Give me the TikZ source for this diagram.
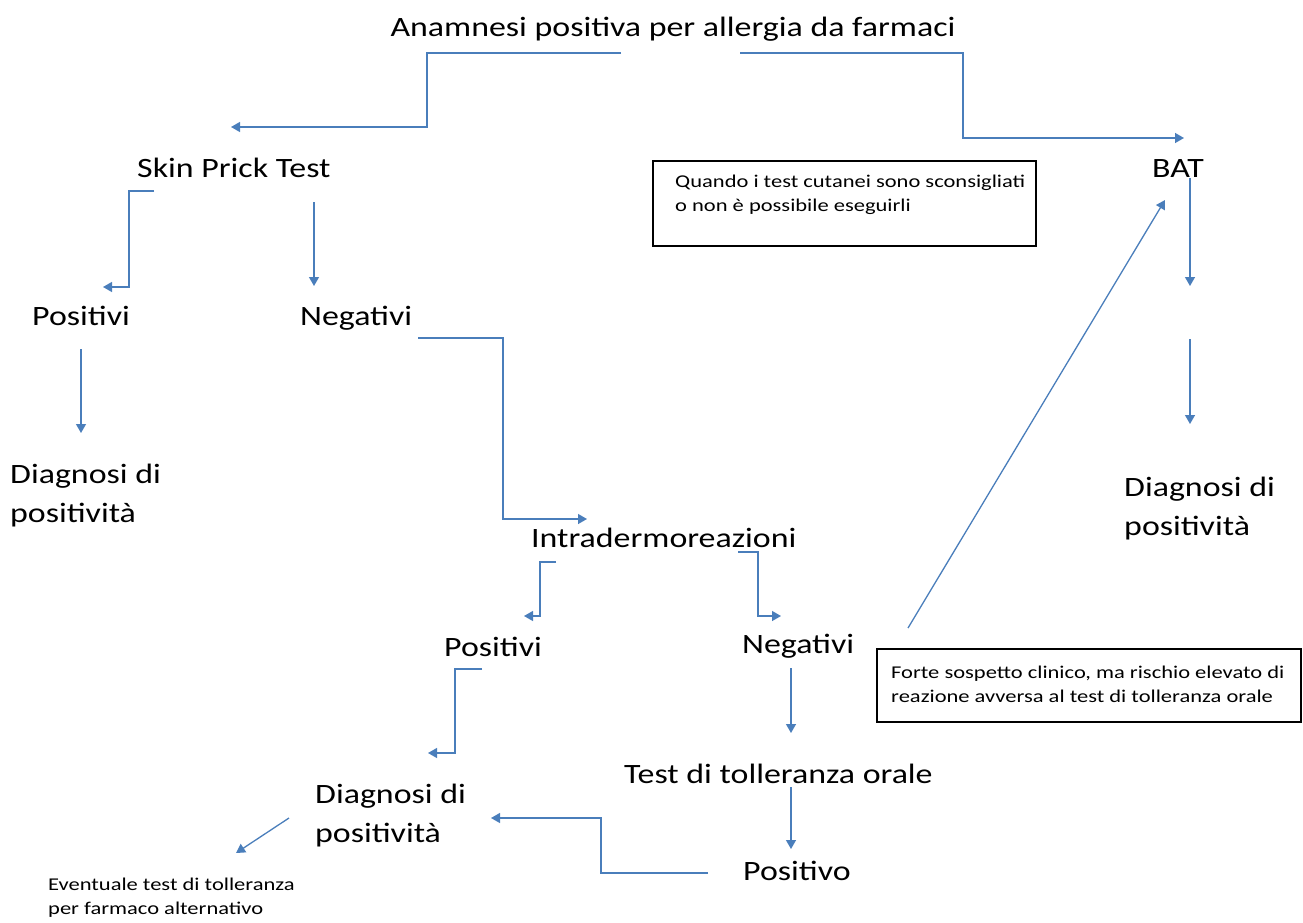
\documentclass[tikz,border=0pt]{standalone}
\usepackage{fontspec}
\setmainfont{Carlito}[FakeStretch=1.21]
\newfontfamily\smallfam{Carlito}[FakeStretch=1.25]
\usetikzlibrary{arrows.meta}
\definecolor{lineblue}{HTML}{4A7EBB}
\begin{document}
\begin{tikzpicture}[x=1pt,y=-1pt,
  big/.style={font=\fontsize{28}{39}\selectfont, inner sep=0pt, align=left, anchor=base west},
  small/.style={font=\smallfam\fontsize{18}{24}\selectfont, inner sep=0pt, align=left, anchor=base west},
  conn/.style={draw=lineblue, line width=1.3pt, -{Triangle[length=9pt,width=10pt]}},
  boxframe/.style={draw=black, line width=1.8pt, inner sep=0pt, anchor=north west}]
\useasboundingbox (0,0) rectangle (1303,923);

% text nodes (multi-line nodes are placed at the baseline of their last line)
\node[big, anchor=base] (anam) at (673,37) {Anamnesi positiva per allergia da farmaci};
\node[big] (spt) at (137,177) {Skin Prick Test};
\node[big] (bat) at (1152,177) {BAT};
\node[big] (posL) at (32,325) {Positivi};
\node[big] (negT) at (300,325) {Negativi};
\node[big] (diagL) at (10,522) {Diagnosi di\\positività};
\node[big] (intra) at (531,547) {Intradermoreazioni};
\node[big] (posM) at (444,656) {Positivi};
\node[big] (negM) at (742,653) {Negativi};
\node[big] (diagR) at (1124,535) {Diagnosi di\\positività};
\node[big] (tto) at (624,783) {Test di tolleranza orale};
\node[big] (diagB) at (315,842) {Diagnosi di\\positività};
\node[big] (posv) at (743,880) {Positivo};
\node[small] (event) at (48,914) {Eventuale test di tolleranza\\per farmaco alternativo};

% boxes
\node[boxframe, minimum width=383, minimum height=85] (box1) at (652,160) {};
\node[small] (box1t) at (675,211) {Quando i test cutanei sono sconsigliati\\o non è possibile eseguirli};
\node[boxframe, minimum width=424, minimum height=73] (box2) at (876,648) {};
\node[small] (box2t) at (891,702) {Forte sospetto clinico, ma rischio elevato di\\reazione avversa al test di tolleranza orale};

% connector end points
\coordinate (c1s) at (621,53);   \coordinate (c1e) at (231,127);
\coordinate (c2s) at (740,53);   \coordinate (c2e) at (1184,138);
\coordinate (c3s) at (154,191);  \coordinate (c3e) at (103,287);
\coordinate (c4s) at (314,202);  \coordinate (c4e) at (314,286);
\coordinate (c5s) at (81,349);   \coordinate (c5e) at (81,433);
\coordinate (c6s) at (418,338);  \coordinate (c6e) at (587,519);
\coordinate (c7s) at (556,562);  \coordinate (c7e) at (524,616);
\coordinate (c8s) at (738,552);  \coordinate (c8e) at (781,616);
\coordinate (c9s) at (482,669);  \coordinate (c9e) at (428,753);
\coordinate (c10s) at (791,668); \coordinate (c10e) at (791,733);
\coordinate (c11s) at (791,787); \coordinate (c11e) at (791,849);
\coordinate (c12s) at (708,873); \coordinate (c12e) at (491,818);
\coordinate (c13s) at (289,818); \coordinate (c13e) at (236,853);
\coordinate (c14s) at (908,628); \coordinate (c14e) at (1165,200);
\coordinate (c15s) at (1190,178); \coordinate (c15e) at (1190,286);
\coordinate (c16s) at (1190,339); \coordinate (c16e) at (1190,424);

% connectors
\draw[conn] (c1s) -- ++(-194,0) |- (c1e);
\draw[conn] (c2s) -- ++(223,0) |- (c2e);
\draw[conn] (c3s) -- ++(-25,0) |- (c3e);
\draw[conn] (c4s) -- (c4e);
\draw[conn] (c5s) -- (c5e);
\draw[conn] (c6s) -- ++(85,0) |- (c6e);
\draw[conn] (c7s) -- ++(-16,0) |- (c7e);
\draw[conn] (c8s) -- ++(20,0) |- (c8e);
\draw[conn] (c9s) -- ++(-27,0) |- (c9e);
\draw[conn] (c10s) -- (c10e);
\draw[conn] (c11s) -- (c11e);
\draw[conn] (c12s) -- ++(-107,0) |- (c12e);
\draw[conn] (c13s) -- (c13e);
\draw[conn] (c14s) -- (c14e);
\draw[conn] (c15s) -- (c15e);
\draw[conn] (c16s) -- (c16e);
\end{tikzpicture}
\end{document}
